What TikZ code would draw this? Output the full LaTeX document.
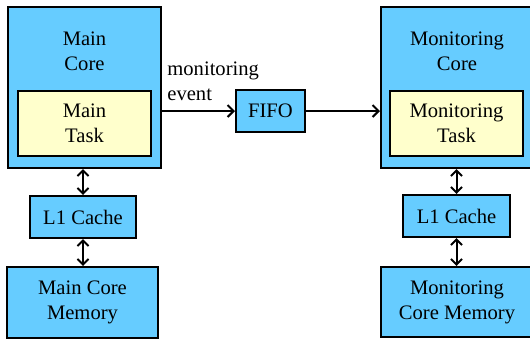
\documentclass[tikz,border=0pt]{standalone}
\usepackage{fontspec}
\setmainfont{Liberation Serif}
\usetikzlibrary{arrows.meta}
\definecolor{boxblue}{RGB}{102,204,255}
\definecolor{taskyellow}{RGB}{255,255,204}
\begin{document}
\begin{tikzpicture}[x=0.5pt,y=-0.5pt,
  txt/.style={align=center, font=\fontsize{10.3}{12.4}\selectfont, inner sep=0pt},
  box/.style={txt, draw=black, line width=1pt, fill=boxblue},
  task/.style={txt, draw=black, line width=1pt, fill=taskyellow},
  conn/.style={line width=1pt, -{Straight Barb[length=3pt,width=6pt]}},
  biconn/.style={line width=1pt, {Straight Barb[length=2.8pt,width=5.5pt]}-{Straight Barb[length=2.8pt,width=5.5pt]}}]
\clip (0,0) rectangle (530,339);
% left column
\node[box, minimum width=76.5pt, minimum height=80.5pt] (mc) at (84.5,87.5) {};
\node[txt] (mctext) at (84.5,51) {Main\\Core};
\node[task, minimum width=66.5pt, minimum height=32.5pt] (mt) at (84.5,123) {Main\\Task};
\node[box, minimum width=53pt, minimum height=21pt] (l1a) at (83,217) {L1 Cache};
\node[box, minimum width=75.5pt, minimum height=35.5pt] (mema) at (82.5,302.5) {Main Core\\Memory};
% middle
\node[box, minimum width=34.5pt, minimum height=21pt] (fifo) at (270.5,111) {FIFO};
\node[txt, align=left, anchor=west] (evt) at (167,81) {monitoring\\event};
% right column
\node[box, minimum width=76pt, minimum height=80.5pt] (moc) at (457,87.5) {};
\node[txt] (moctext) at (457,51) {Monitoring\\Core};
\node[task, minimum width=66.5pt, minimum height=32.5pt] (mot) at (456.5,123) {Monitoring\\Task};
\node[box, minimum width=53.5pt, minimum height=21pt] (l1b) at (456.5,216) {L1 Cache};
\node[box, minimum width=76pt, minimum height=35pt] (memb) at (457,302) {Monitoring\\Core Memory};
% connectors
\draw[conn] (mc.east |- fifo.west) -- (fifo.west);
\draw[conn] (fifo.east) -- (moc.west |- fifo.east);
\draw[biconn] (l1a.north |- mc.south) -- (l1a.north);
\draw[biconn] (l1a.south) -- (l1a.south |- mema.north);
\draw[biconn] (l1b.north |- moc.south) -- (l1b.north);
\draw[biconn] (l1b.south) -- (l1b.south |- memb.north);
\end{tikzpicture}
\end{document}
